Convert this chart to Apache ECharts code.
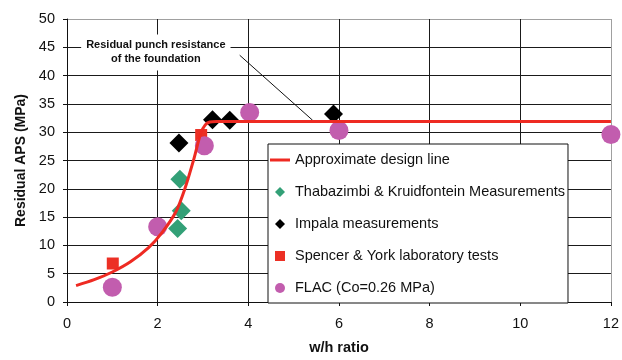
<!DOCTYPE html>
<html><head><meta charset="utf-8">
<script src="https://cdn.jsdelivr.net/npm/echarts@6/dist/echarts.min.js"></script>
<style>html,body{margin:0;padding:0;background:#fff}#c{width:622px;height:360px}</style>
</head><body><div id="c"></div>
<script>
// ---- data ----
const seriesNames = ['Approximate design line', 'Thabazimbi & Kruidfontein Measurements', 'Impala measurements', 'Spencer & York laboratory tests', 'FLAC (Co=0.26 MPa)'];
const designLineX = [0.2, 0.6, 1.0, 1.4, 1.8, 2.1, 2.4, 2.6, 2.8, 2.95, 3.05, 3.15, 3.3, 4, 6, 8, 10, 12];
const designLineY = [2.9, 3.95, 5.3, 7.1, 9.6, 12.3, 15.9, 20.0, 25.3, 29.8, 31.3, 31.8, 31.9, 31.9, 31.9, 31.9, 31.9, 31.9];
const thabazimbiX = [2.49, 2.52, 2.44];
const thabazimbiY = [21.7, 16.1, 13.0];
const impalaX = [2.47, 3.21, 3.59, 5.88];
const impalaY = [28.1, 32.2, 32.1, 33.2];
const spencerX = [1.01, 2.96];
const spencerY = [6.8, 29.5];
const flacX = [1.0, 2.0, 3.03, 4.03, 6.0, 12.0];
const flacY = [2.6, 13.3, 27.6, 33.5, 30.3, 29.6];
const xAxisTitle = 'w/h ratio';
const yAxisTitle = 'Residual APS (MPa)';
const annotationLines = ['Residual punch resistance', 'of the foundation'];
const annotationAt = [1.96, 44.1];
const arrowFrom = [3.81, 43.6];
const arrowTo = [5.42, 32.1];

const zip = (xs, ys) => xs.map((x, i) => [x, ys[i]]);
const FONT = '"Liberation Sans", Arial, sans-serif';

const chart = echarts.init(document.getElementById('c'), null, {renderer: 'canvas'});
const yGridColors = ['#1a1a1a','#1a1a1a','#1a1a1a','#1a1a1a','#1a1a1a','#1a1a1a','#1a1a1a','#1a1a1a','#1a1a1a','#1a1a1a','#a0a0a0'];
const xGridColors = ['#1a1a1a','#1a1a1a','#1a1a1a','#1a1a1a','#1a1a1a','#1a1a1a','#a0a0a0'];

const colors = {line: '#ee2a22', green: '#33a077', black: '#000000', red: '#ec3025', pink: '#c25dae'};

chart.setOption({
  animation: false,
  backgroundColor: '#fff',
  grid: {left: 67, right: 5, top: 19, bottom: 52, containLabel: false},
  xAxis: {
    type: 'value', min: 0, max: 12, interval: 2,
    name: xAxisTitle, nameLocation: 'middle', nameGap: 38,
    nameTextStyle: {fontFamily: FONT, fontSize: 14.5, fontWeight: 'bold', color: '#111'},
    axisLine: {show: true, lineStyle: {color: '#111', width: 1}},
    axisTick: {show: true, length: 4, lineStyle: {color: '#111'}},
    axisLabel: {fontFamily: FONT, fontSize: 14.5, color: '#111', margin: 14},
    splitLine: {show: true, lineStyle: {color: xGridColors, width: 1}}
  },
  yAxis: {
    type: 'value', min: 0, max: 50, interval: 5,
    name: yAxisTitle, nameLocation: 'middle', nameGap: 38, nameRotate: 90,
    nameTextStyle: {fontFamily: FONT, fontSize: 14, fontWeight: 'bold', color: '#111'},
    axisLine: {show: true, lineStyle: {color: '#111', width: 1}},
    axisTick: {show: true, length: 4, lineStyle: {color: '#111'}},
    axisLabel: {fontFamily: FONT, fontSize: 14.5, color: '#111', margin: 12},
    splitLine: {show: true, lineStyle: {color: yGridColors, width: 1}}
  },
  legend: {
    orient: 'vertical', left: 268, top: 144,
    padding: [8, 3, 7, 2],
    itemWidth: 20, itemHeight: 10, itemGap: 16,
    symbolKeepAspect: true,
    backgroundColor: '#fff', borderColor: '#111', borderWidth: 1,
    textStyle: {fontFamily: FONT, fontSize: 14.5, color: '#111', lineHeight: 16},
    data: [
      {name: seriesNames[0], icon: 'path://M0,0H20V3H0Z', itemStyle: {color: colors.line}},
      {name: seriesNames[1], icon: 'path://M5,0L10,5L5,10L0,5Z'},
      {name: seriesNames[2], icon: 'path://M5,0L10,5L5,10L0,5Z'},
      {name: seriesNames[3], icon: 'path://M0,0H10V10H0Z'},
      {name: seriesNames[4], icon: 'path://M5,0A5,5 0 1 1 5,10A5,5 0 1 1 5,0Z'}
    ]
  },
  series: [
    {
      name: seriesNames[1], type: 'scatter', data: zip(thabazimbiX, thabazimbiY),
      symbol: 'diamond', symbolSize: 19, itemStyle: {color: colors.green, opacity: 1}, z: 2, clip: false
    },
    {
      name: seriesNames[2], type: 'scatter', data: zip(impalaX, impalaY),
      symbol: 'diamond', symbolSize: 19, itemStyle: {color: colors.black, opacity: 1}, z: 2, clip: false
    },
    {
      name: seriesNames[3], type: 'scatter', data: zip(spencerX, spencerY),
      symbol: 'rect', symbolSize: 12, itemStyle: {color: colors.red, opacity: 1}, z: 2, clip: false
    },
    {
      name: seriesNames[4], type: 'scatter', data: zip(flacX, flacY),
      symbol: 'circle', symbolSize: 19, itemStyle: {color: colors.pink, opacity: 1}, z: 2, clip: false
    },
    {
      name: seriesNames[0], type: 'line', data: zip(designLineX, designLineY),
      showSymbol: false, symbol: 'none', smooth: 0.3,
      lineStyle: {color: colors.line, width: 3}, itemStyle: {color: colors.line}, z: 5, clip: false,
      markPoint: {
        silent: true, symbol: 'rect', symbolSize: 0,
        label: {
          show: true, position: 'inside', formatter: annotationLines.join('\n'),
          fontFamily: FONT, fontSize: 11, fontWeight: 'bold', color: '#111', lineHeight: 14,
          backgroundColor: '#fff', padding: [4, 5]
        },
        data: [{coord: annotationAt}]
      },
      markLine: {
        silent: true, symbol: ['none', 'arrow'], symbolSize: [0, 7],
        label: {show: false},
        lineStyle: {color: '#111', width: 1, type: 'solid'},
        data: [[{coord: arrowFrom}, {coord: arrowTo}]]
      }
    }
  ]
});
</script></body></html>
